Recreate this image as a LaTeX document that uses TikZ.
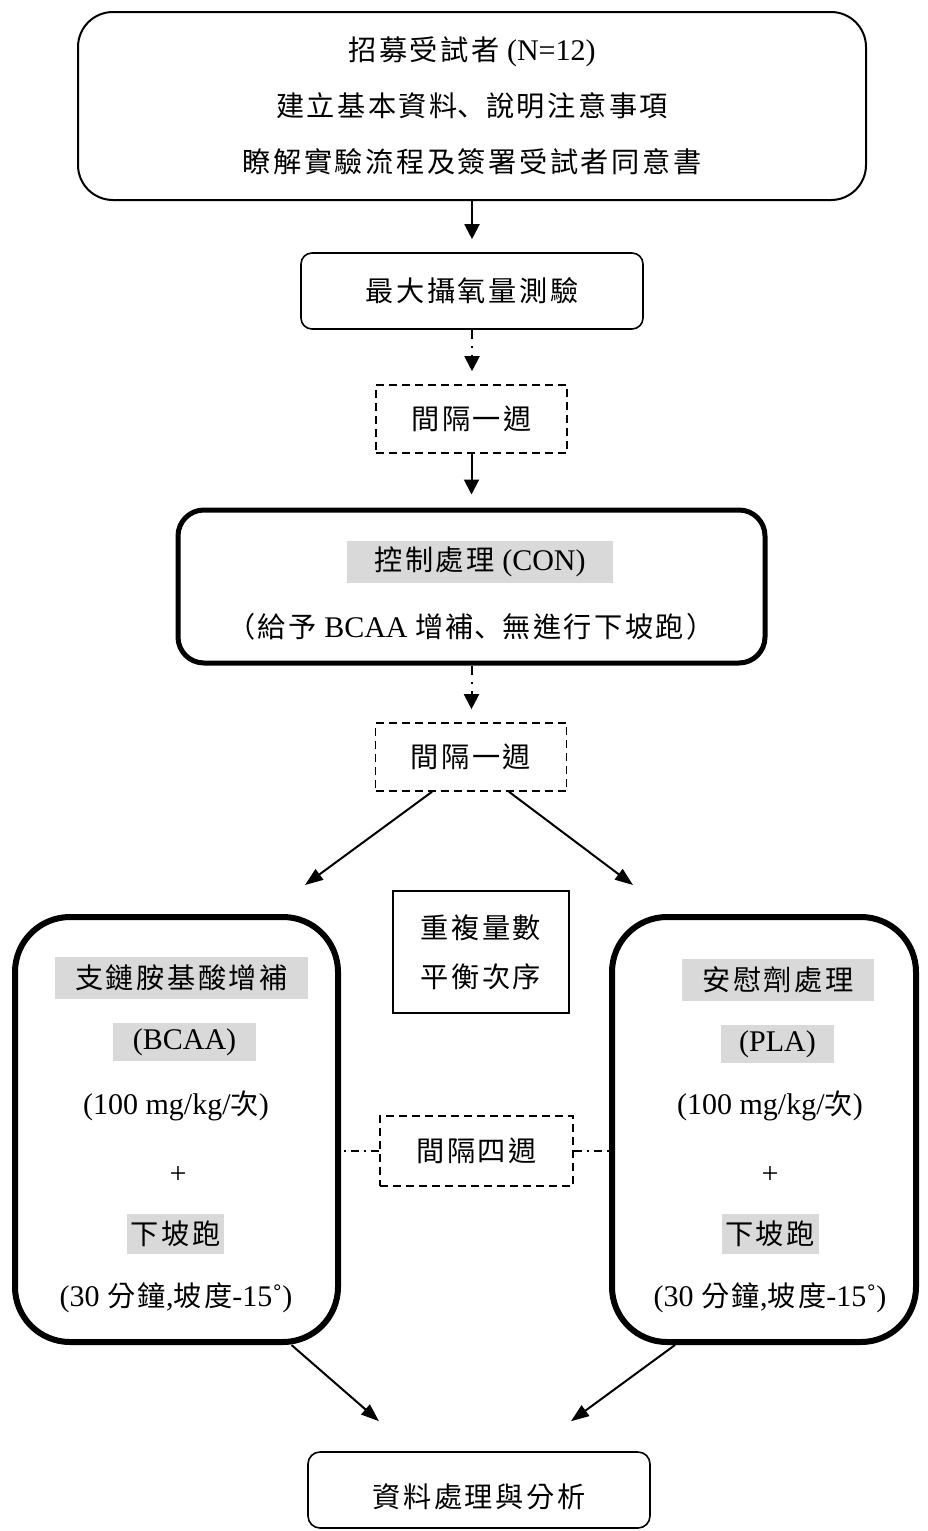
\documentclass[tikz,border=0pt]{standalone}
\usepackage{fontspec}
\setmainfont{Liberation Serif}
\newfontfamily\cjk[Scale=0.94,LetterSpace=9]{Noto Sans CJK TC}
\newfontfamily\cjkjp[Scale=0.94,LetterSpace=9]{Noto Sans CJK JP}
\usetikzlibrary{arrows.meta}
\newcommand\zh[1]{{\cjk #1}}
\newcommand\dun{{\cjkjp 、}}
\definecolor{shade}{HTML}{D9D9D9}
\tikzset{
  base/.style={draw, line width=2pt, align=center, inner sep=0pt},
  outerbox/.style={base, rounded corners=35pt},
  stepbox/.style={base, line width=1.6pt, rounded corners=11pt},
  gapbox/.style={base, line width=1.6pt, dash pattern=on 8pt off 5pt},
  boldbox/.style={base, line width=5pt, rounded corners=26pt},
  armbox/.style={base, line width=6pt, rounded corners=55pt},
  plainbox/.style={base, line width=1.6pt},
  hl/.style={fill=shade, inner sep=0pt, minimum height=42pt},
  lbl/.style={inner sep=0pt},
  flow/.style={line width=2pt, -{Triangle[length=15pt,width=15pt]}, shorten >=13pt},
  dashflow/.style={flow, dash pattern=on 9pt off 7pt on 2.5pt off 7pt},
  diag/.style={line width=2pt, -{Triangle[length=18pt,width=13pt]}},
  link/.style={line width=1.6pt, dash pattern=on 8pt off 5pt on 2pt off 5pt}
}
\begin{document}
\begin{tikzpicture}[x=1pt, y=-1pt, font=\fontsize{30}{36}\selectfont]
\useasboundingbox (0,0) rectangle (928,1531);

% recruitment and baseline test
\node[outerbox, minimum width=788pt, minimum height=188pt,
      font=\fontsize{30}{56}\selectfont] (recruit) at (472,106)
  {\zh{招募受試者} (N=12)\\ \zh{建立基本資料}\dun\zh{說明注意事項}\\ \zh{瞭解實驗流程及簽署受試者同意書}};
\node[stepbox, minimum width=342pt, minimum height=76pt] (vo2) at (472,291) {\zh{最大攝氧量測驗}};
\node[gapbox, minimum width=191pt, minimum height=68pt] (gap1) at (471.5,419) {\zh{間隔一週}};

% control trial
\node[boldbox, minimum width=587pt, minimum height=153pt] (con) at (471.5,586.5) {};
\node[hl, minimum width=266pt] (contitle) at (480,562) {\zh{控制處理} (CON)};
\node[lbl] (condesc) at (471,627) {\zh{（給予} BCAA \zh{增補}\dun\zh{無進行下坡跑）}};
\node[gapbox, minimum width=191pt, minimum height=68pt] (gap2) at (471,757) {\zh{間隔一週}};

% crossover design
\node[plainbox, minimum width=176pt, minimum height=122pt,
      font=\fontsize{30}{49}\selectfont] (design) at (481,952) {\zh{重複量數}\\ \zh{平衡次序}};

% BCAA trial
\node[armbox, minimum width=323pt, minimum height=425pt] (bcaa) at (176.5,1129.5) {};
\node[hl, minimum width=253pt] (bcaatitle) at (181.5,978) {\zh{支鏈胺基酸增補}};
\node[hl, minimum width=143pt, minimum height=38pt] (bcaacode) at (184.5,1042) {(BCAA)};
\node[lbl] (bcaadose) at (176,1106) {(100 mg/kg/\zh{次})};
\node[lbl] (bcaaplus) at (178,1175) {+};
\node[hl, minimum width=97pt, minimum height=40pt] (bcaarun) at (175.5,1234) {\zh{下坡跑}};
\node[lbl] (bcaatime) at (176,1298) {(30 \zh{分鐘},\zh{坡度}-15˚)};

% placebo trial
\node[armbox, minimum width=304pt, minimum height=425pt] (pla) at (764,1129.5) {};
\node[hl, minimum width=192pt] (platitle) at (778,980) {\zh{安慰劑處理}};
\node[hl, minimum width=113pt, minimum height=38pt] (placode) at (777.5,1044) {(PLA)};
\node[lbl] (pladose) at (770,1106) {(100 mg/kg/\zh{次})};
\node[lbl] (plaplus) at (770,1175) {+};
\node[hl, minimum width=97pt, minimum height=40pt] (plarun) at (770,1234) {\zh{下坡跑}};
\node[lbl] (platime) at (770,1298) {(30 \zh{分鐘},\zh{坡度}-15˚)};

\node[gapbox, minimum width=193pt, minimum height=70pt] (gap4) at (476.5,1151) {\zh{間隔四週}};

% analysis
\node[stepbox, rounded corners=12pt, minimum width=342pt, minimum height=76pt] (analysis) at (479,1490) {};
\node[lbl] (analysistext) at (479,1497) {\zh{資料處理與分析}};

% connectors
\draw[flow] (recruit.south) -- (recruit.south |- vo2.north);
\draw[dashflow] (vo2.south) -- (vo2.south |- gap1.north);
\draw[flow] (gap1.south) -- (gap1.south |- con.north);
\draw[dashflow] (con.south) -- (con.south |- gap2.north);
\draw[diag] ([xshift=-39pt]gap2.south) -- ([xshift=-36pt,yshift=29pt]bcaa.north east);
\draw[diag] ([xshift=38pt]gap2.south) -- ([xshift=24pt,yshift=29pt]pla.north west);
\draw[link] (gap4.west) -- (gap4.west -| bcaa.east);
\draw[link] (gap4.east) -- (gap4.east -| pla.west);
\draw[diag] ([xshift=115pt]bcaa.south) -- ([xshift=-100pt,yshift=30pt]analysis.north);
\draw[diag] ([xshift=-89pt]pla.south) -- ([xshift=92pt,yshift=30pt]analysis.north);
\end{tikzpicture}
\end{document}
